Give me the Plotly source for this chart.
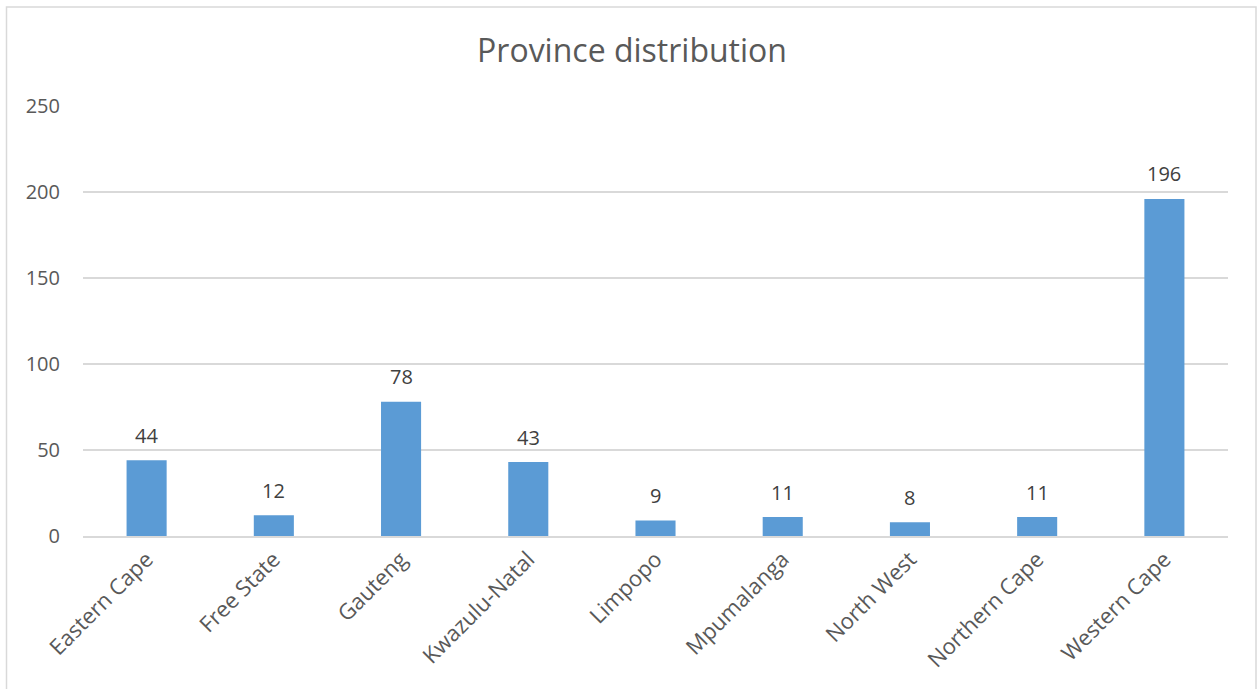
import plotly.graph_objects as go

provinces = ["Eastern Cape", "Free State", "Gauteng", "Kwazulu-Natal", "Limpopo",
             "Mpumalanga", "North West", "Northern Cape", "Western Cape"]
counts = [44, 12, 78, 43, 9, 11, 8, 11, 196]

W, H = 1258, 689
L, R, T, B = 83, 30, 106, 153
pw, ph = W - L - R, H - T - B

def px_to_paper_x(px):
    return (px - L) / pw

def px_to_paper_y(py):
    return (H - B - py) / ph

font_family = "Open Sans, Liberation Sans, sans-serif"
text_gray = "#595959"
label_gray = "#404040"
grid_gray = "#D9D9D9"

fig = go.Figure(
    go.Bar(
        x=provinces,
        y=counts,
        marker=dict(color="#5B9BD5", line=dict(width=0)),
        hoverinfo="x+y",
    )
)

# value labels sitting above each bar
for name, val in zip(provinces, counts):
    fig.add_annotation(
        x=name,
        y=val,
        text=str(val),
        showarrow=False,
        yanchor="middle",
        yshift=25,
        font=dict(size=20, color=label_gray, family=font_family),
    )

fig.update_layout(
    width=W,
    height=H,
    margin=dict(l=L, r=R, t=T, b=B, autoexpand=False),
    paper_bgcolor="white",
    plot_bgcolor="white",
    bargap=0.685,
    showlegend=False,
    title=dict(
        text="Province distribution",
        x=(475 + 789) / 2 / W,
        xanchor="center",
        y=1 - 51 / H,
        yanchor="middle",
        font=dict(size=32, color=text_gray, family=font_family),
    ),
    font=dict(family=font_family, color=text_gray),
    xaxis=dict(
        tickangle=-45,
        tickfont=dict(size=22, color=text_gray),
        showgrid=False,
        showline=True,
        linecolor=grid_gray,
        linewidth=1.5,
        ticks="",
    ),
    yaxis=dict(
        range=[0, 250],
        tickvals=[0, 50, 100, 150, 200, 250],
        tickfont=dict(size=20, color=text_gray),
        showgrid=True,
        gridcolor=grid_gray,
        gridwidth=1.5,
        zeroline=False,
        showline=False,
        ticks="",
        ticklabelstandoff=22,
    ),
    shapes=[
        dict(
            type="rect",
            xref="paper",
            yref="paper",
            x0=px_to_paper_x(6.5),
            x1=px_to_paper_x(1256),
            y0=px_to_paper_y(700),
            y1=px_to_paper_y(7),
            line=dict(color=grid_gray, width=1.5),
            fillcolor="rgba(0,0,0,0)",
            layer="below",
        )
    ],
)

fig.write_html("out.html")
